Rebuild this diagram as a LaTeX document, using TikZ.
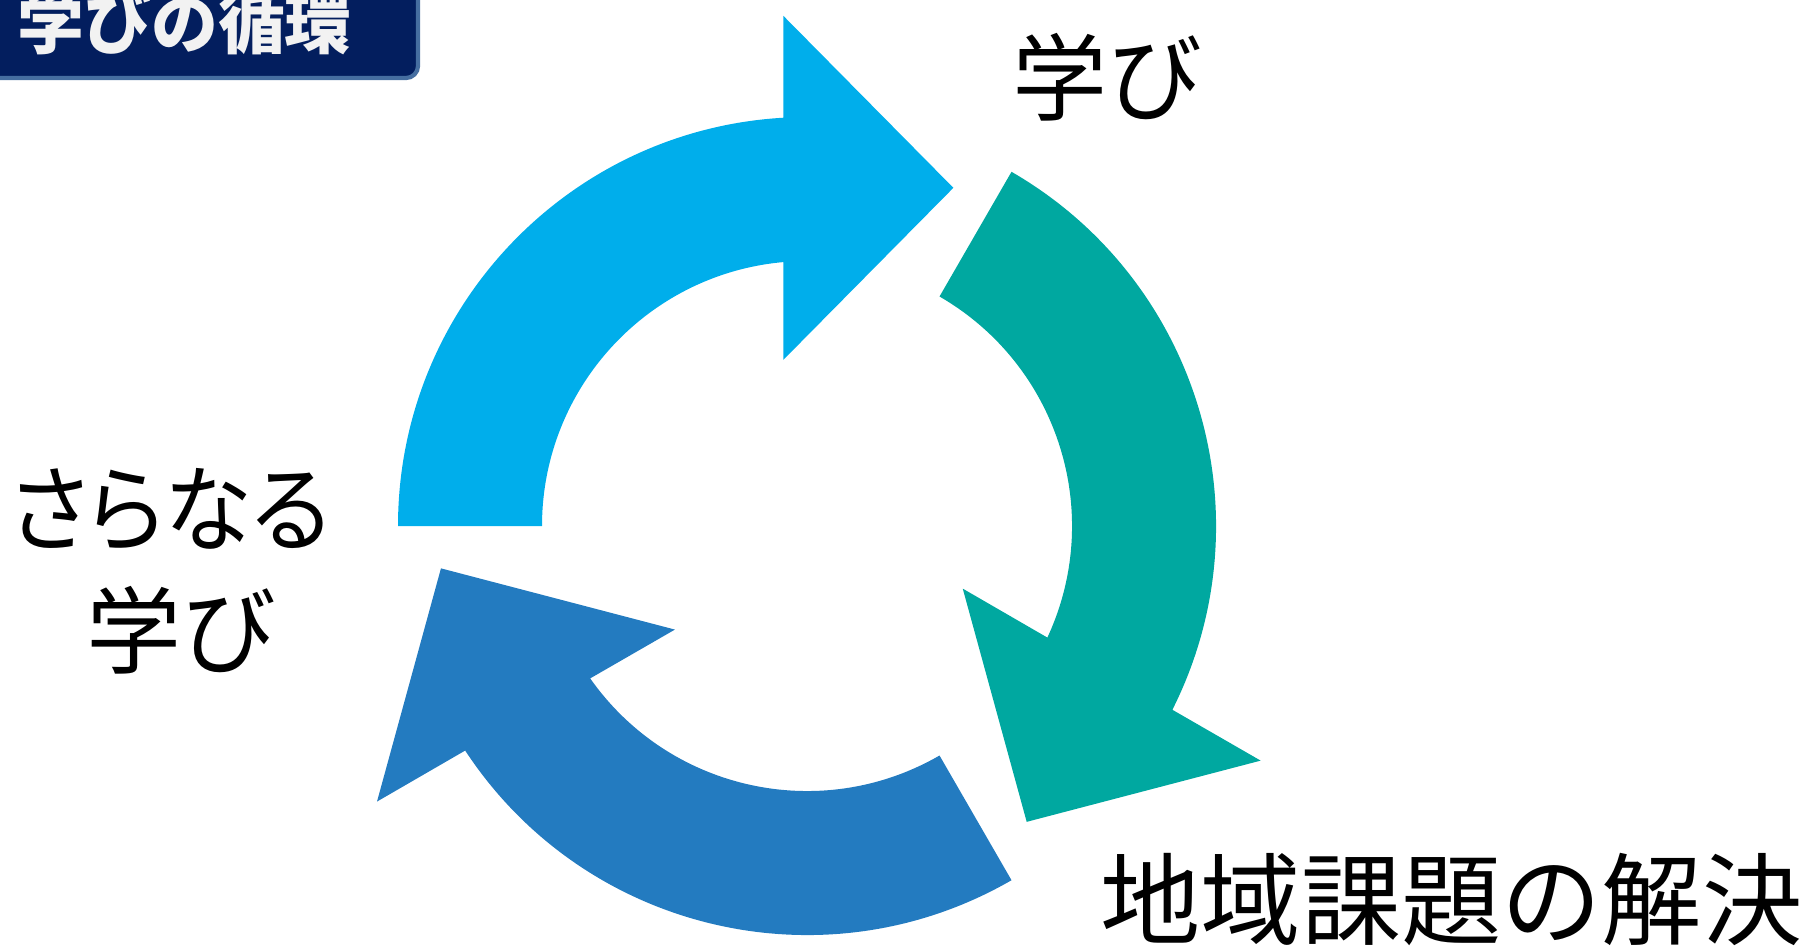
\documentclass[tikz,border=0pt]{standalone}
\usepackage{fontspec}
\newfontfamily\jp{Noto Sans CJK JP}
\newfontfamily\jppalt{Noto Sans CJK JP}[RawFeature=+palt]
\usetikzlibrary{calc}
\definecolor{navy}{RGB}{3,30,94}
\definecolor{navyedge}{RGB}{70,110,160}
\definecolor{titletext}{RGB}{242,242,242}
\definecolor{lblue}{RGB}{0,174,235}
\definecolor{tealc}{RGB}{0,168,160}
\definecolor{dblue}{RGB}{35,123,192}
% #1 colour, #2 tail angle
\newcommand\cyclearrow[2]{%
  \fill[#1] ($(c)+(#2:409)$) arc[start angle=#2, end angle=#2-86.7, radius=409]
    -- ($(c)+(#2-86:339)+(#2-90:172)$)
    -- ($(c)+(#2-86:339)+(#2-180:170)$)
    -- ($(c)+(#2-86:339)+(#2+90:172)$)
    -- ($(c)+(#2-84.9:265)$) arc[start angle=#2-84.9, end angle=#2, radius=265] -- cycle;}
\begin{document}
\begin{tikzpicture}[x=0.01cm,y=0.01cm,
  label/.style={inner sep=0pt, text=black},
  big/.style={font=\jp\fontsize{27}{27}\selectfont}]
\useasboundingbox (0,0) rectangle (1807,950);
\coordinate (c) at (807,424);
% title box
\draw[navyedge, fill=navy, line width=1.2pt, rounded corners=3.4pt] (-30,872) rectangle (418,990);
\node (title) [inner sep=0pt, anchor=base west, text=titletext, font=\jp\bfseries\fontsize{19}{19}\selectfont] at (17,902) {学びの循環};
% arrows
\cyclearrow{lblue}{180}
\cyclearrow{tealc}{60}
\cyclearrow{dblue}{-60}
% labels
\node (l1) [label, big, anchor=base west] at (1012,837) {学び};
\node (l2) [label, anchor=base west, font=\jp\fontsize{28.5}{28.5}\selectfont] at (1100,13) {地域課題の解決};
\node (l3a) [label, anchor=base, font=\jppalt\fontsize{27}{27}\selectfont] at (170,406) {\scalebox{0.93}[1]{さらなる}};
\node (l3b) [label, big, anchor=base] at (181,284) {学び};
\end{tikzpicture}
\end{document}
